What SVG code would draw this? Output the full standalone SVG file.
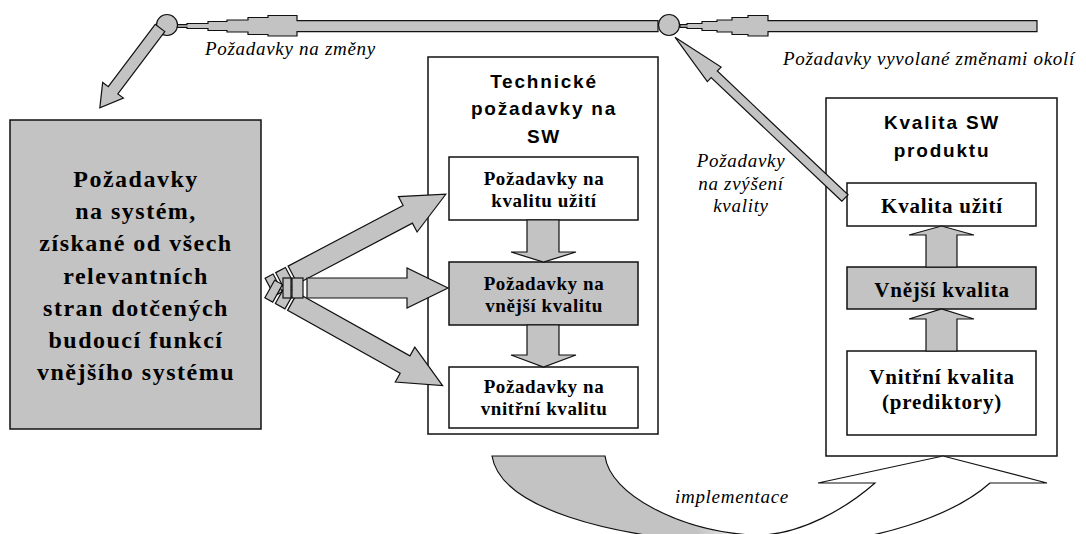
<svg xmlns="http://www.w3.org/2000/svg" width="1086" height="534" viewBox="0 0 1086 534">
  <style>
    .box { stroke: #111; stroke-width: 1.5; }
    .gray { fill: #c3c3c3; }
    .white { fill: #fff; }
    .conn { fill: #c3c3c3; stroke: #111; stroke-width: 1.2; stroke-linejoin: miter; }
    .big { font-family: "Liberation Serif", Tinos, "Times New Roman", serif; font-weight: bold; font-size: 24px; letter-spacing: 1.5px; text-anchor: middle; fill: #000; }
    .title { font-family: "Liberation Sans", Arimo, Arial, sans-serif; font-weight: bold; font-size: 19px; letter-spacing: 1.8px; text-anchor: middle; fill: #000; }
    .mid { font-family: "Liberation Serif", Tinos, "Times New Roman", serif; font-weight: bold; font-size: 19px; letter-spacing: 0.6px; text-anchor: middle; fill: #000; }
    .rt { font-family: "Liberation Serif", Tinos, "Times New Roman", serif; font-weight: bold; font-size: 21px; letter-spacing: 0.8px; text-anchor: middle; fill: #000; }
    .lbl { font-family: "Liberation Serif", Tinos, "Times New Roman", serif; font-style: italic; font-size: 19px; letter-spacing: 0.7px; fill: #000; }
  </style>
  <defs>
    <linearGradient id="implFill" gradientUnits="userSpaceOnUse" x1="492" y1="0" x2="1047" y2="0">
      <stop offset="0" stop-color="#c3c3c3"/>
      <stop offset="0.37" stop-color="#c3c3c3"/>
      <stop offset="0.47" stop-color="#ffffff"/>
      <stop offset="1" stop-color="#ffffff"/>
    </linearGradient>
  </defs>

  <rect width="1086" height="534" fill="#fff"/>

  <!-- source requirements -->
  <g id="node-system">
    <rect class="box gray" x="10" y="120" width="251" height="309"/>
    <text class="big" x="136" y="187">Požadavky</text>
    <text class="big" x="136" y="219">na systém,</text>
    <text class="big" x="136" y="251">získané od všech</text>
    <text class="big" x="136" y="284">relevantních</text>
    <text class="big" x="136" y="316">stran dotčených</text>
    <text class="big" x="136" y="348">budoucí funkcí</text>
    <text class="big" x="136" y="380">vnějšího systému</text>
  </g>

  <!-- technical requirements container -->
  <g id="node-technical">
    <rect class="box white" x="428" y="57" width="230" height="377"/>
    <text class="title" x="544" y="88">Technické</text>
    <text class="title" x="544" y="115">požadavky na</text>
    <text class="title" x="544" y="143">SW</text>
  </g>
  <g id="node-req-use">
    <rect class="box white" x="449" y="157" width="189" height="63"/>
    <text class="mid" x="544" y="185">Požadavky na</text>
    <text class="mid" x="544" y="207">kvalitu užití</text>
  </g>
  <g id="node-req-external">
    <rect class="box gray" x="449" y="262" width="189" height="63"/>
    <text class="mid" x="544" y="290">Požadavky na</text>
    <text class="mid" x="544" y="312">vnější kvalitu</text>
  </g>
  <g id="node-req-internal">
    <rect class="box white" x="449" y="367" width="189" height="61"/>
    <text class="mid" x="544" y="393">Požadavky na</text>
    <text class="mid" x="544" y="415">vnitřní kvalitu</text>
  </g>

  <!-- product quality container -->
  <g id="node-product">
    <rect class="box white" x="826" y="98" width="231" height="358"/>
    <text class="title" x="942" y="129">Kvalita SW</text>
    <text class="title" x="942" y="157">produktu</text>
  </g>
  <g id="node-use">
    <rect class="box white" x="847" y="183" width="189" height="43"/>
    <text class="rt" x="942" y="213">Kvalita užití</text>
  </g>
  <g id="node-external">
    <rect class="box gray" x="847" y="267" width="189" height="42"/>
    <text class="rt" x="942" y="297">Vnější kvalita</text>
  </g>
  <g id="node-internal">
    <rect class="box white" x="847" y="351" width="189" height="84"/>
    <text class="rt" x="942" y="384">Vnitřní kvalita</text>
    <text class="rt" x="942" y="409">(prediktory)</text>
  </g>

  <!-- connectors -->
  <g id="connectors">
    <!-- feedback line along the top -->
    <polygon class="conn" points="1037,20.7 768,20.7 768,15.5 748,15.5 748,17.5 732,17.5 732,20 717,20 717,21.5 702,21.5 702,23.5 687,23.5 687,24.7 680,24.7 680,27.3 687,27.3 687,28.5 702,28.5 702,30.5 717,30.5 717,32 732,32 732,34.5 748,34.5 748,36 768,36 768,31.7 1037,31.7"/>
    <polygon class="conn" points="658,20.7 297,20.7 297,15.5 268,15.5 268,17.5 248,17.5 248,20 227,20 227,21.5 208,21.5 208,23.5 187,23.5 187,24.7 177,24.7 177,27.3 187,27.3 187,28.5 208,28.5 208,30.5 227,30.5 227,32 248,32 248,34.5 268,34.5 268,36 297,36 297,31.7 658,31.7"/>
    <circle class="conn" cx="167" cy="25" r="10.5"/>
    <circle class="conn" cx="669" cy="25" r="10.5"/>

    <!-- change requests into the system requirements -->
    <polygon class="conn" transform="translate(160,28) rotate(127)" points="0,-6 78,-6 78,-13 100,0 78,13 78,6 0,6"/>

    <!-- quality improvement requests back to the loop -->
    <polygon class="conn" transform="translate(845,198) rotate(223.4)" points="0,-4.5 180,-4.5 180,-10 234,0 180,10 180,4.5 0,4.5"/>

    <!-- fan of arrows into the technical requirements -->
    <g transform="translate(268,288) rotate(-27.8)">
      <rect class="conn" x="2" y="-10" width="9" height="20"/>
      <rect class="conn" x="14" y="-10" width="11" height="20"/>
      <polygon class="conn" points="28,-10 158,-10 158,-20 201,0 158,20 158,10 28,10"/>
    </g>
    <g transform="translate(268,288) rotate(29.2)">
      <rect class="conn" x="2" y="-10" width="9" height="20"/>
      <rect class="conn" x="14" y="-10" width="11" height="20"/>
      <polygon class="conn" points="28,-10 157,-10 157,-20 200,0 157,20 157,10 28,10"/>
    </g>
    <g transform="translate(268,288)">
      <rect class="conn" x="15" y="-10" width="8" height="20"/>
      <rect class="conn" x="24" y="-10" width="11" height="20"/>
      <polygon class="conn" points="39,-10 139,-10 139,-20 180,0 139,20 139,10 39,10"/>
    </g>

    <!-- downward arrows inside the technical requirements -->
    <polygon class="conn" points="527,220 559,220 559,252 576,252 543.5,262 511,252 527,252"/>
    <polygon class="conn" points="527,325 559,325 559,355 576,355 543.5,367 511,355 527,355"/>

    <!-- upward arrows inside the product quality -->
    <polygon class="conn" points="926,267 957,267 957,235 974,235 941.5,226 909,235 926,235"/>
    <polygon class="conn" points="926,351 957,351 957,319 974,319 941.5,309 909,319 926,319"/>

    <!-- implementation curved arrow -->
    <path d="M492,456 L605,456 C610,495 680,530 750,535 C800,538 850,505 875,483 L818,483 L943,456 L1047,483 L990,483 C960,510 880,548 760,545 C600,540 500,505 492,456 Z" fill="url(#implFill)" stroke="#111" stroke-width="1.2"/>
  </g>

  <!-- connector labels -->
  <g id="labels">
    <text class="lbl" x="205" y="55">Požadavky na změny</text>
    <text class="lbl" x="783" y="65">Požadavky vyvolané změnami okolí</text>
    <text class="lbl" x="741" y="167" text-anchor="middle">Požadavky</text>
    <text class="lbl" x="741" y="190" text-anchor="middle">na zvýšení</text>
    <text class="lbl" x="741" y="212" text-anchor="middle">kvality</text>
    <text class="lbl" x="675" y="503">implementace</text>
  </g>
</svg>
